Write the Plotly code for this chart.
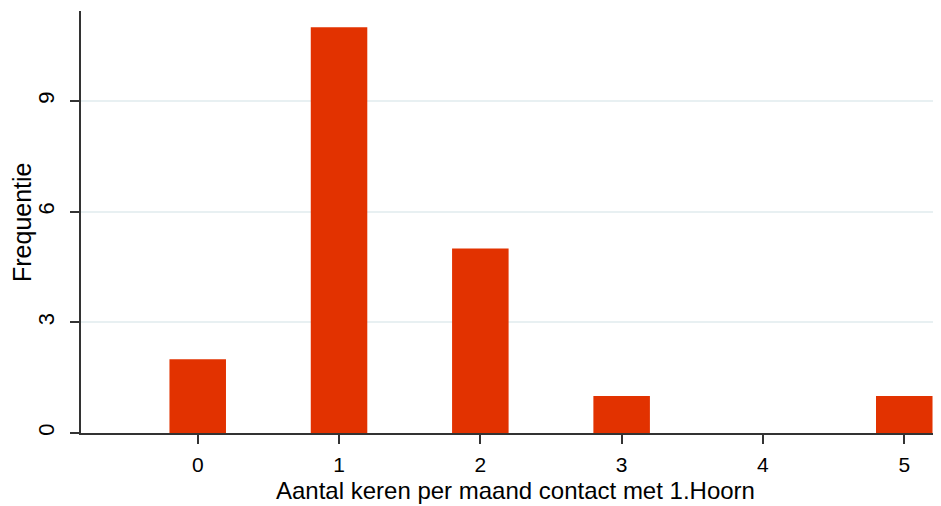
import plotly.graph_objects as go

categories = [0, 1, 2, 3, 5]
frequencies = [2, 11, 5, 1, 1]
x_ticks = [0, 1, 2, 3, 4, 5]
y_ticks = [0, 3, 6, 9]
x_title = "Aantal keren per maand contact met 1.Hoorn"
y_title = "Frequentie"

fig = go.Figure(go.Bar(x=categories, y=frequencies, width=0.4,
                       marker=dict(color="#E23200", line=dict(width=0))))

fig.update_layout(
    width=933, height=498,
    margin=dict(l=73, r=0, t=3, b=73),
    plot_bgcolor="white", paper_bgcolor="white",
    font=dict(family="Liberation Sans, Arial, sans-serif", size=22, color="black"),
    showlegend=False,
    xaxis=dict(range=[-0.826, 5.26], tickvals=x_ticks, showgrid=False,
               showline=True, linecolor="#333333", linewidth=2,
               ticks="outside", ticklen=9, tickwidth=2, tickcolor="#333333",
               tickfont=dict(size=21), ticklabelstandoff=3,
               automargin=False, zeroline=False),
    yaxis=dict(range=[0, 11.44], tickvals=y_ticks, tickangle=-90,
               showgrid=True, gridcolor="#E8F0F2", gridwidth=1.5,
               showline=True, linecolor="#333333", linewidth=2,
               ticks="outside", ticklen=9, tickwidth=2, tickcolor="#333333",
               tickfont=dict(size=22), ticklabelstandoff=7,
               automargin=False, zeroline=False),
    annotations=[
        dict(text=x_title, xref="paper", yref="paper", x=0.505, y=0,
             xanchor="center", yanchor="middle", yshift=-57, showarrow=False,
             font=dict(size=24)),
        dict(text=y_title, xref="paper", yref="paper", x=0, y=0.5,
             xanchor="center", yanchor="middle", xshift=-59, textangle=-90,
             showarrow=False, font=dict(size=25)),
    ],
)

fig.write_html("out.html")
